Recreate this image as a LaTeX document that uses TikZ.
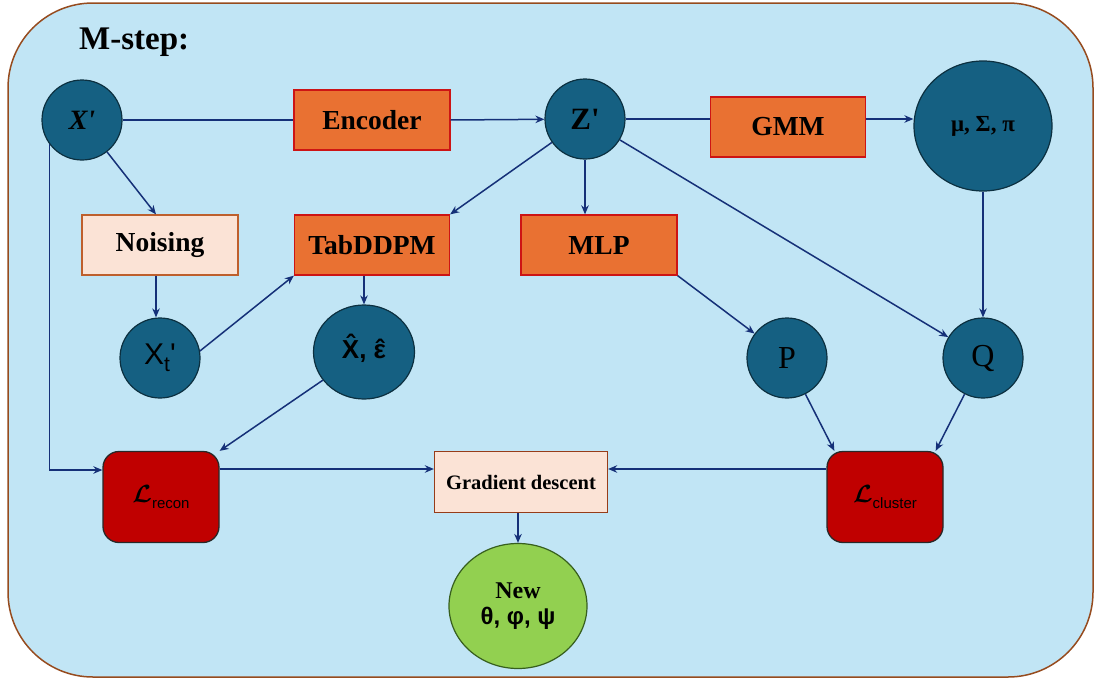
\documentclass[tikz,border=0pt]{standalone}
\usepackage{amsmath}
\usepackage{fontspec}
\setmainfont{Liberation Serif}[Ligatures=TeXOff]
\setsansfont{Liberation Sans}[Ligatures=TeXOff]
\usetikzlibrary{arrows.meta,shapes.geometric}

\definecolor{panelfill}{RGB}{193,229,245}
\definecolor{paneledge}{RGB}{150,75,30}
\definecolor{lineblue}{RGB}{21,48,120}
\definecolor{circfill}{RGB}{21,96,130}
\definecolor{circedge}{RGB}{12,48,64}
\definecolor{orangefill}{RGB}{233,113,50}
\definecolor{orangeedge}{RGB}{205,20,20}
\definecolor{peachfill}{RGB}{251,227,214}
\definecolor{peachedge}{RGB}{190,95,45}
\definecolor{gdedge}{RGB}{150,60,25}
\definecolor{lossfill}{RGB}{192,0,0}
\definecolor{lossedge}{RGB}{40,40,40}
\definecolor{newfill}{RGB}{146,208,80}
\definecolor{newedge}{RGB}{55,95,30}

\tikzset{
  conn/.style={draw=lineblue, line width=1.5pt},
  arr/.style={conn, -{Stealth[length=9pt,width=7.5pt]}},
  var/.style={circle, draw=circedge, line width=1.2pt, fill=circfill,
    minimum size=80pt, inner sep=0pt},
  bigvar/.style={ellipse, draw=circedge, line width=1.2pt, fill=circfill, inner sep=0pt},
  orangebox/.style={rectangle, draw=orangeedge, line width=1.3pt, fill=orangefill,
    minimum width=156pt, minimum height=60pt, inner sep=0pt,
    font=\bfseries\fontsize{27.5}{27.5}\selectfont},
  peachbox/.style={rectangle, draw=peachedge, line width=1.3pt, fill=peachfill,
    minimum width=156pt, minimum height=60pt, inner sep=0pt,
    font=\bfseries\fontsize{27.5}{27.5}\selectfont},
  lossbox/.style={rectangle, rounded corners=16pt, draw=lossedge, line width=1.3pt,
    fill=lossfill, minimum width=116pt, minimum height=91pt, inner sep=0pt},
}

% loss symbol with a sans-serif subscript
\newcommand{\lossname}[1]{\raisebox{1pt}{\fontsize{23}{23}\selectfont$\boldsymbol{\mathcal{L}}$}\raisebox{-5pt}{\sffamily\fontsize{15}{15}\selectfont #1}}
% hat placed over a glyph
\newcommand{\hatover}[2]{{\ooalign{#1\cr\hidewidth\raisebox{#2}{ˆ}\hidewidth\cr}}}

\begin{document}
\begin{tikzpicture}[x=1pt,y=-1pt]
\useasboundingbox (0,0) rectangle (1097,680);

% rounded panel
\draw[draw=paneledge, fill=panelfill, line width=1.5pt, rounded corners=85pt]
  (8,3) rectangle (1093,677);

\node[anchor=west, font=\bfseries\fontsize{33}{33}\selectfont, inner sep=0pt] (title) at (79,42) {M-step:};

% variables
\node[var] (X) at (82,120) {\fontsize{28}{28}\selectfont\bfseries\itshape X'};
\node[var] (Z) at (585,119) {\fontsize{31}{31}\selectfont\bfseries Z'};
\node[bigvar, minimum width=138pt, minimum height=130pt] (Mu) at (983,126)
  {\fontsize{23}{23}\selectfont\bfseries μ, Σ, π};
\node[var] (Xt) at (160,358) {\sffamily\fontsize{30}{30}\selectfont X\raisebox{-7pt}{\fontsize{21}{21}\selectfont t}'};
\node[bigvar, minimum width=101pt, minimum height=94pt] (Xh) at (364,352)
  {\sffamily\bfseries\fontsize{26}{26}\selectfont \hatover{X}{5pt}, \hatover{ε}{0pt}};
\node[var] (P) at (787,358) {\fontsize{32}{32}\selectfont P};
\node[var] (Q) at (983,358) {\fontsize{32}{32}\selectfont Q};

% processing blocks
\node[orangebox] (Enc) at (372,120) {Encoder};
\node[orangebox, minimum width=155pt] (GMM) at (788,127) {GMM};
\node[peachbox] (Noise) at (160,245) {Noising};
\node[orangebox, minimum width=155pt] (Tab) at (372,245) {TabDDPM};
\node[orangebox] (MLP) at (599,245) {MLP};

% losses and update
\node[lossbox] (Lrec) at (161,497) {\lossname{recon}};
\node[lossbox] (Lclu) at (885,497) {\lossname{cluster}};
\node[peachbox, draw=gdedge, minimum width=173pt, minimum height=61pt,
  font=\bfseries\fontsize{20.5}{20.5}\selectfont] (GD) at (521,482) {Gradient descent};
\node[ellipse, draw=newedge, line width=1.2pt, fill=newfill, inner sep=0pt,
  minimum width=138pt, minimum height=125pt, align=center] (New) at (518,606)
  {{\bfseries\fontsize{24}{24}\selectfont New}\\[7pt]{\sffamily\bfseries\fontsize{24}{24}\selectfont θ, φ, ψ}};

% connectors
\draw[conn] (X) -- (Enc.west);
\draw[arr] (Enc.east) -- (Z);
\draw[conn] (Z.east) -- (Z.east -| GMM.west);
\draw[arr] (GMM.east |- Z.east) -- (Z.east -| Mu.west);
\draw[arr] (X) -- ([xshift=-4pt]Noise.north);
\draw[arr] (X.217) |- ([yshift=27pt]Lrec.west);
\draw[arr] ([xshift=-4pt]Noise.south) -- ([xshift=-4pt]Xt.north);
\draw[arr] (Xt.10) -- (Tab.south west);
\draw[arr] (Z) -- (Tab.north east);
\draw[arr] (Z) -- (Z |- MLP.north);
\draw[arr] (Z) -- (Q);
\draw[arr] (Mu) -- (Q);
\draw[arr] (Tab.south -| Xh) -- (Xh.north);
\draw[arr] (MLP.south east) -- (P);
\draw[arr] (Xh) -- (Lrec.north east);
\draw[arr] (P) -- ([xshift=8pt]Lclu.north west);
\draw[arr] (Q) -- ([xshift=-8pt]Lclu.north east);
\draw[arr] ([yshift=28pt]Lrec.east) -- ([yshift=13pt]GD.west);
\draw[arr] ([yshift=28pt]Lclu.west) -- ([yshift=13pt]GD.east);
\draw[arr] (GD.south -| New) -- (New.north);
\end{tikzpicture}
\end{document}
